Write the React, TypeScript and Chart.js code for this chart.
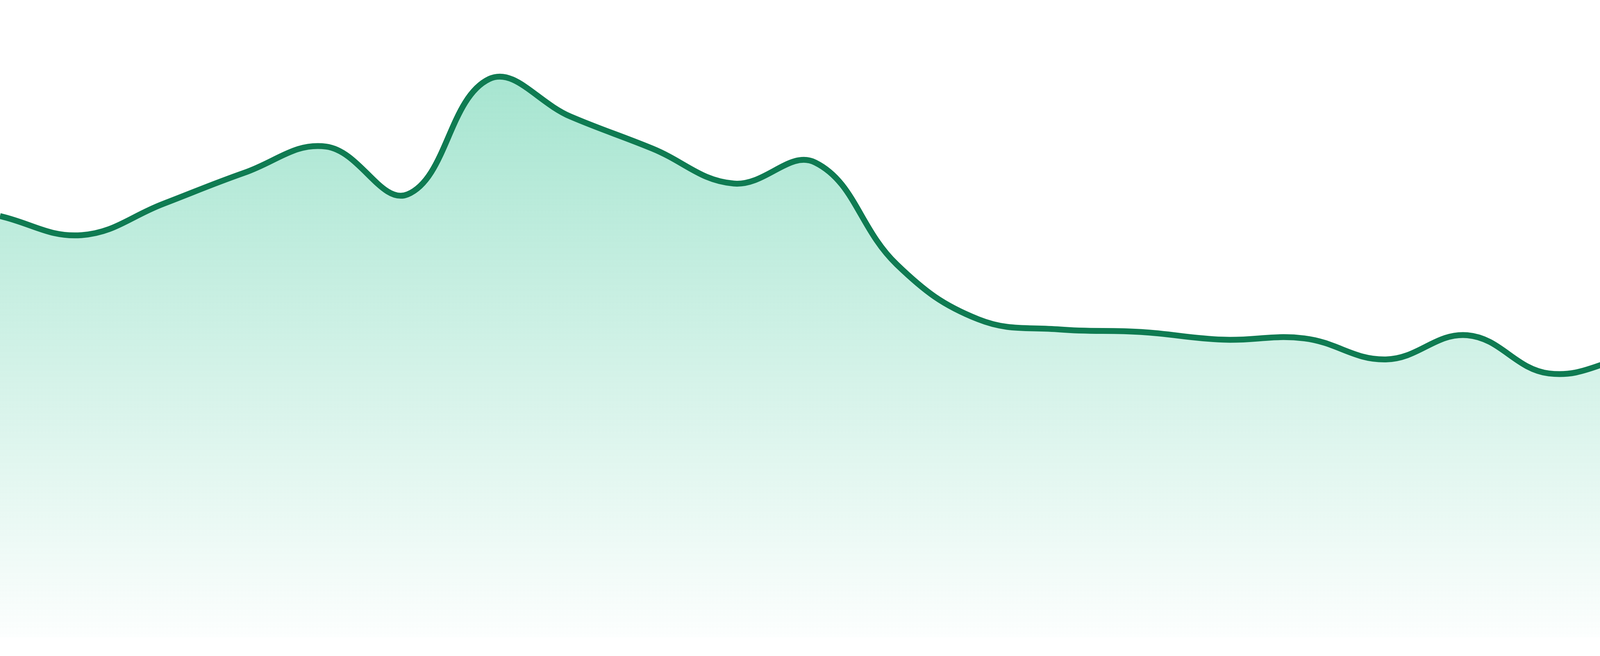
import React, { useEffect, useRef } from "react";
import { Chart, registerables } from "chart.js";

Chart.register(...registerables);

const labels: string[] = [
  "P01", "P02", "P03", "P04", "P05", "P06", "P07", "P08",
  "P09", "P10", "P11", "P12", "P13", "P14", "P15", "P16",
  "P17", "P18", "P19", "P20", "P21", "P22", "P23", "P24",
];

const seriesValues: number[] = [
  66.1, 63.1, 68.0, 72.9, 77.0, 69.5, 87.6, 81.7,
  76.7, 71.2, 74.5, 58.5, 49.9, 48.3, 47.9, 46.7,
  46.9, 43.6, 47.4, 41.4, 44.1, 46.8, 47.6, 51.2,
];

const yMin = 0;
const yMax = 100;

const LINE_COLOR = "#0f7b52";

export default function App() {
  const canvasRef = useRef<HTMLCanvasElement | null>(null);

  useEffect(() => {
    document.body.style.margin = "0";
    const canvas = canvasRef.current;
    if (!canvas) return;
    const chart = new Chart(canvas, {
      type: "line",
      data: {
        labels,
        datasets: [
          {
            data: seriesValues,
            borderColor: LINE_COLOR,
            borderWidth: 15,
            pointRadius: 0,
            pointHoverRadius: 0,
            tension: 0.4,
            fill: "start",
            backgroundColor: (ctx: any) => {
              const c = ctx.chart;
              const area = c.chartArea;
              if (!area) return "rgba(16,185,129,0.2)";
              const g = c.ctx.createLinearGradient(0, area.top, 0, area.bottom);
              g.addColorStop(0, "rgba(16,185,129,0.42)");
              g.addColorStop(1, "rgba(16,185,129,0.01)");
              return g;
            },
          },
        ],
      },
      options: {
        animation: false,
        responsive: true,
        maintainAspectRatio: false,
        layout: { padding: { top: 0, left: 0, right: 0, bottom: 48 } },
        plugins: {
          legend: { display: false },
          tooltip: { enabled: false },
        },
        scales: {
          x: { display: false, offset: false },
          y: { display: false, min: yMin, max: yMax },
        },
      },
    });
    return () => chart.destroy();
  }, []);

  return (
    <div style={{ width: "4800px", height: "1680px", position: "relative" }}>
      <canvas ref={canvasRef} />
    </div>
  );
}
